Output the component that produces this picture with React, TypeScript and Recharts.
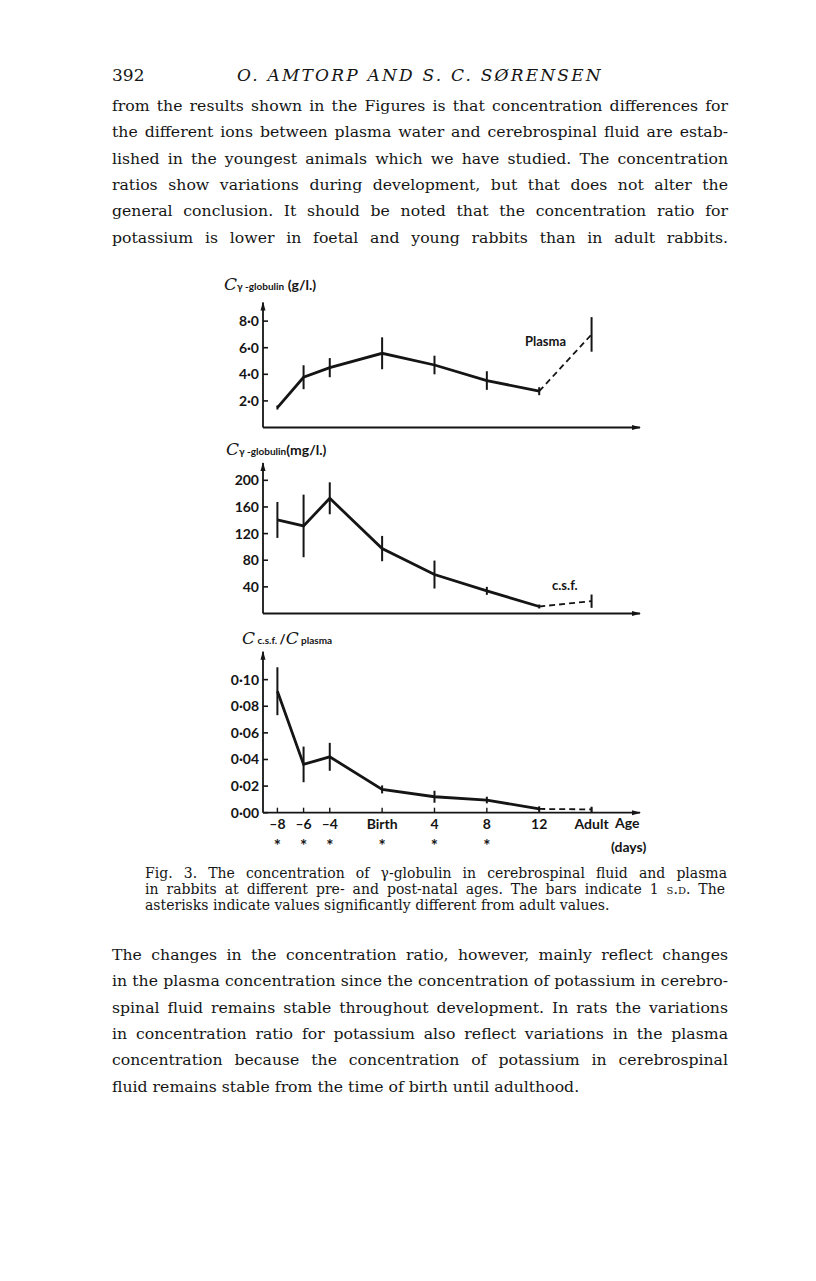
import { LineChart, Line, XAxis, YAxis, ErrorBar } from "recharts";

// ages in days relative to birth; adult is drawn one step after 12
const AGES = [-8, -6, -4, 0, 4, 8, 12, 16];
const AGE_LABELS = ["–8", "–6", "–4", "Birth", "4", "8", "12", "Adult"];
const SIGNIFICANT = [true, true, true, true, true, true, false, false];

const PLASMA = [1.5, 3.78, 4.5, 5.58, 4.7, 3.53, 2.73, 7.0];
const PLASMA_SD = [0.15, 0.9, 0.72, 1.2, 0.7, 0.7, 0.3, 1.3];
const PLASMA_TICKS = [2, 4, 6, 8];

const CSF = [140.5, 131.5, 173, 97.5, 58.5, 34, 10.5, 18.5];
const CSF_SD = [27, 47, 24, 19, 21, 6, 3, 10];
const CSF_TICKS = [40, 80, 120, 160, 200];

const RATIO = [0.0913, 0.0363, 0.042, 0.0175, 0.012, 0.0095, 0.0028, 0.0025];
const RATIO_SD = [0.018, 0.0134, 0.0105, 0.003, 0.0045, 0.0025, 0.002, 0.002];
const RATIO_TICKS = [0, 0.02, 0.04, 0.06, 0.08, 0.1];

const PARA_1 = [
  "from the results shown in the Figures is that concentration differences for",
  "the different ions between plasma water and cerebrospinal fluid are estab-",
  "lished in the youngest animals which we have studied. The concentration",
  "ratios show variations during development, but that does not alter the",
  "general conclusion. It should be noted that the concentration ratio for",
  "potassium is lower in foetal and young rabbits than in adult rabbits.",
];
const PARA_2 = [
  "The changes in the concentration ratio, however, mainly reflect changes",
  "in the plasma concentration since the concentration of potassium in cerebro-",
  "spinal fluid remains stable throughout development. In rats the variations",
  "in concentration ratio for potassium also reflect variations in the plasma",
  "concentration because the concentration of potassium in cerebrospinal",
  "fluid remains stable from the time of birth until adulthood.",
];

const INK = "#151515";
const SANS = "Lato, 'Open Sans', sans-serif";
const SERIF = "'DejaVu Serif', 'Liberation Serif', serif";
const GAP = 4;

type Row = {
  age: number;
  main: number | null;
  mainSd: number | null;
  tail: number | null;
  tailSd: number | null;
};

function buildRows(values: number[], sds: number[]): Row[] {
  return AGES.map((age, i) => ({
    age,
    main: i < 7 ? values[i] : null,
    mainSd: i < 7 ? sds[i] : null,
    tail: i >= 6 ? values[i] : null,
    tailSd: i === 7 ? sds[i] : null,
  }));
}

function YTick(props: any) {
  const { x, y, payload, fmt } = props;
  const ax = x + GAP;
  return (
    <g>
      <line x1={ax} x2={ax + 5} y1={y} y2={y} stroke={INK} strokeWidth={1.6} />
      <text
        x={x}
        y={y}
        dy={5}
        textAnchor="end"
        fontFamily={SANS}
        fontWeight={700}
        fontSize={14}
        fill={INK}
      >
        {fmt(payload.value)}
      </text>
    </g>
  );
}

function AgeTick(props: any) {
  const { x, y, payload } = props;
  const i = AGES.indexOf(payload.value);
  const ay = y - GAP;
  return (
    <g>
      <line x1={x} x2={x} y1={ay} y2={ay - 5} stroke={INK} strokeWidth={1.4} />
      <text
        x={x}
        y={y + 12}
        textAnchor="middle"
        fontFamily={SANS}
        fontWeight={700}
        fontSize={14}
        fill={INK}
      >
        {AGE_LABELS[i]}
      </text>
      {SIGNIFICANT[i] && (
        <text
          x={x}
          y={y + 35}
          textAnchor="middle"
          fontFamily={SANS}
          fontWeight={700}
          fontSize={17}
          fill={INK}
        >
          *
        </text>
      )}
    </g>
  );
}

type PanelProps = {
  values: number[];
  sds: number[];
  yTicks: number[];
  yMax: number;
  fmt: (v: number) => string;
  top: number;
  height: number;
  plotTop: number;
  plotBottom: number;
  ageAxis?: boolean;
};

function Panel({
  values,
  sds,
  yTicks,
  yMax,
  fmt,
  top,
  height,
  plotTop,
  plotBottom,
  ageAxis,
}: PanelProps) {
  const rows = buildRows(values, sds);
  return (
    <div style={{ position: "absolute", left: 200, top }}>
      <LineChart
        width={460}
        height={height}
        data={rows}
        margin={{ top: plotTop - top, right: 20, left: 23, bottom: 0 }}
      >
        <XAxis
          dataKey="age"
          type="number"
          domain={[-9.1, 19.7]}
          allowDataOverflow
          ticks={AGES}
          height={top + height - plotBottom}
          axisLine={{ stroke: INK, strokeWidth: 1.8, markerEnd: "url(#arrowHead)" }}
          tickLine={false}
          tickSize={0}
          tickMargin={GAP}
          interval={0}
          tick={ageAxis ? <AgeTick /> : false}
        />
        <YAxis
          type="number"
          domain={[0, yMax]}
          allowDataOverflow
          ticks={yTicks}
          width={40}
          axisLine={{ stroke: INK, strokeWidth: 1.8, markerStart: "url(#arrowHeadUp)" }}
          tickLine={false}
          tickSize={0}
          tickMargin={GAP}
          interval={0}
          tick={(p: any) => <YTick {...p} fmt={fmt} />}
        />
        <Line
          dataKey="main"
          type="linear"
          stroke={INK}
          strokeWidth={2.8}
          dot={false}
          isAnimationActive={false}
        >
          <ErrorBar dataKey="mainSd" width={0} stroke={INK} strokeWidth={2} direction="y" />
        </Line>
        <Line
          dataKey="tail"
          type="linear"
          stroke={INK}
          strokeWidth={1.8}
          strokeDasharray="6 4"
          dot={false}
          isAnimationActive={false}
        >
          <ErrorBar dataKey="tailSd" width={0} stroke={INK} strokeWidth={2} direction="y" />
        </Line>
      </LineChart>
    </div>
  );
}

function TextLine({
  text,
  top,
  left,
  width,
  size,
  lh,
  justify,
}: {
  text: any;
  top: number;
  left: number;
  width: number;
  size: number;
  lh: number;
  justify: boolean;
}) {
  return (
    <div
      style={{
        position: "absolute",
        left,
        top: top - lh / 2,
        width,
        height: lh,
        lineHeight: `${lh}px`,
        fontSize: size,
        whiteSpace: "nowrap",
        textAlign: justify ? "justify" : "left",
        textAlignLast: justify ? "justify" : "left",
      }}
    >
      {text}
    </div>
  );
}

const label = (left: number, top: number, children: any, extra: any = {}) => (
  <div
    style={{
      position: "absolute",
      left,
      top,
      fontFamily: SANS,
      fontWeight: 700,
      fontSize: 14,
      color: INK,
      whiteSpace: "nowrap",
      ...extra,
    }}
  >
    {children}
  </div>
);

const cItalic = { fontStyle: "italic", fontWeight: 400, fontSize: 17, fontFamily: SERIF };

export default function App() {
  const dec1 = (v: number) => v.toFixed(1).replace(".", "·");
  const dec2 = (v: number) => v.toFixed(2).replace(".", "·");
  return (
    <div
      style={{
        position: "absolute",
        left: 0,
        top: 0,
        width: 816,
        height: 1281,
        background: "#fff",
        color: INK,
        fontFamily: SERIF,
        overflow: "hidden",
      }}
    >
      <svg width={0} height={0} style={{ position: "absolute" }}>
        <defs>
          <marker
            id="arrowHead"
            markerUnits="userSpaceOnUse"
            markerWidth={9}
            markerHeight={6}
            refX={8}
            refY={3}
            orient="auto"
          >
            <path d="M0,0.5 L9,3 L0,5.5 z" fill={INK} />
          </marker>
          <marker
            id="arrowHeadUp"
            markerUnits="userSpaceOnUse"
            markerWidth={9}
            markerHeight={6}
            refX={8}
            refY={3}
            orient="auto-start-reverse"
          >
            <path d="M0,0.5 L9,3 L0,5.5 z" fill={INK} />
          </marker>
        </defs>
      </svg>

      {/* running head */}
      <div style={{ position: "absolute", left: 112, top: 64, fontSize: 17, lineHeight: "22px" }}>
        392
      </div>
      <div
        style={{
          position: "absolute",
          left: 112,
          width: 616,
          top: 64,
          fontSize: 17,
          lineHeight: "22px",
          fontStyle: "italic",
          letterSpacing: 2.2,
          textAlign: "center",
        }}
      >
        O. AMTORP AND S. C. SØRENSEN
      </div>

      {PARA_1.map((t, i) => (
        <TextLine key={t} text={t} top={106 + i * 26.3} left={112} width={616} size={15.7} lh={24} justify />
      ))}

      {/* axis titles */}
      {label(224, 274, (
        <span>
          <span style={cItalic}>C</span>
          <span style={{ fontSize: 10 }}>γ -globulin</span> (g/l.)
        </span>
      ))}
      {label(226, 439, (
        <span>
          <span style={cItalic}>C</span>
          <span style={{ fontSize: 10 }}>γ -globulin</span>(mg/l.)
        </span>
      ))}
      {label(242, 628, (
        <span>
          <span style={cItalic}>C</span>
          <span style={{ fontSize: 10 }}> c.s.f. </span>
          <span style={{ fontSize: 13 }}>/</span>
          <span style={cItalic}>C</span>
          <span style={{ fontSize: 10 }}> plasma</span>
        </span>
      ))}

      <Panel
        values={PLASMA}
        sds={PLASMA_SD}
        yTicks={PLASMA_TICKS}
        yMax={9.4}
        fmt={dec1}
        top={290}
        height={150}
        plotTop={302.5}
        plotBottom={427.5}
      />
      {label(525, 333, "Plasma", { fontSize: 13 })}

      <Panel
        values={CSF}
        sds={CSF_SD}
        yTicks={CSF_TICKS}
        yMax={226}
        fmt={(v) => String(v)}
        top={450}
        height={180}
        plotTop={463}
        plotBottom={613.5}
      />
      {label(552, 577, "c.s.f.", { fontSize: 13 })}

      <Panel
        values={RATIO}
        sds={RATIO_SD}
        yTicks={RATIO_TICKS}
        yMax={0.121}
        fmt={dec2}
        top={640}
        height={228}
        plotTop={651.7}
        plotBottom={812.7}
        ageAxis
      />
      {label(615, 814, "Age")}
      {label(611, 838, "(days)")}

      {/* caption */}
      <TextLine
        text="Fig. 3. The concentration of γ-globulin in cerebrospinal fluid and plasma"
        top={873}
        left={145}
        width={582}
        size={14}
        lh={16}
        justify
      />
      <TextLine
        text={
          <>
            in rabbits at different pre- and post-natal ages. The bars indicate 1{" "}
            <span style={{ fontVariant: "small-caps" }}>s.d.</span> The
          </>
        }
        top={889}
        left={145}
        width={580}
        size={14}
        lh={16}
        justify
      />
      <TextLine
        text="asterisks indicate values significantly different from adult values."
        top={905}
        left={145}
        width={582}
        size={14}
        lh={16}
        justify={false}
      />

      {PARA_2.map((t, i) => (
        <TextLine
          key={t}
          text={t}
          top={955 + i * 26.3}
          left={112}
          width={616}
          size={15.7}
          lh={24}
          justify={i < PARA_2.length - 1}
        />
      ))}
    </div>
  );
}
